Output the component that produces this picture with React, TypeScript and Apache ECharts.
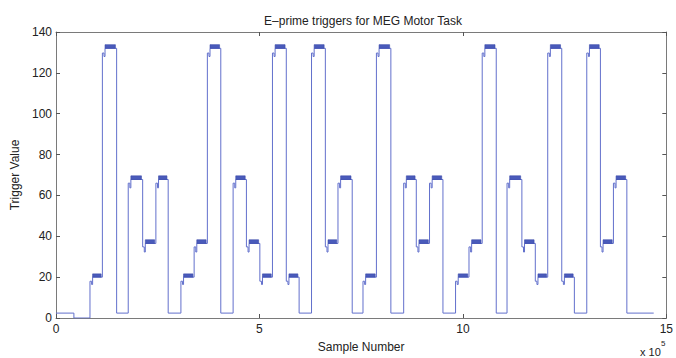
import React, { useEffect, useRef } from "react";
import * as echarts from "echarts";

// Transition times (sample number, in units of 1e5) and the trigger value held from each one
const starts = [0, 0.44, 0.835, 1.14, 1.49, 1.775, 2.13, 2.455, 2.757, 3.07, 3.395, 3.72, 4.05, 4.353, 4.68, 5.01, 5.32, 5.66, 5.975, 6.28, 6.62, 6.93, 7.28, 7.545, 7.875, 8.23, 8.545, 8.855, 9.18, 9.51, 9.82, 10.15, 10.475, 10.82, 11.085, 11.45, 11.78, 12.085, 12.43, 12.74, 13.045, 13.38, 13.7, 14.03];
const codes = [2, 0, 20, 133, 2, 69, 37, 69, 2, 20, 37, 133, 2, 69, 37, 20, 133, 20, 2, 133, 37, 69, 2, 20, 133, 2, 69, 37, 69, 2, 20, 37, 133, 2, 69, 37, 20, 133, 20, 2, 133, 37, 69, 2];
const endSample = 14.69;

// Levels for each trigger code
const levelCodes = [0, 2, 20, 37, 69, 133];
const levelValues = [0, 2.4, 20, 36.5, 67.8, 132];
const preValues = [0, 2.4, 18, 34.8, 66, 129.7];
const notchValues = [0, 2.4, 16.4, 32.3, 63.7, 128];
const blockTops = [0, 2.4, 21.6, 38.3, 69.6, 133.8];

const xTicks = [0, 5, 10, 15];
const yTicks = [0, 20, 40, 60, 80, 100, 120, 140];

const PRE_DUR = 0.04;
const NOTCH_DUR = 0.025;
const BLOCK_GAP = 0.03;

function buildLine() {
  const pts: number[][] = [];
  const blocks: number[][] = [];
  for (let i = 0; i < starts.length; i++) {
    const s = starts[i];
    const next = i + 1 < starts.length ? starts[i + 1] : endSample;
    const k = levelCodes.indexOf(codes[i]);
    if (codes[i] <= 2) {
      pts.push([s, levelValues[k]]);
    } else {
      pts.push([s, preValues[k]]);
      pts.push([s + PRE_DUR, notchValues[k]]);
      pts.push([s + PRE_DUR + NOTCH_DUR, levelValues[k]]);
      blocks.push([s + PRE_DUR + NOTCH_DUR, next - BLOCK_GAP, levelValues[k], blockTops[k]]);
    }
  }
  const lastK = levelCodes.indexOf(codes[codes.length - 1]);
  pts.push([endSample, levelValues[lastK]]);
  return { pts, blocks };
}

export default function App() {
  const ref = useRef<HTMLDivElement>(null);
  useEffect(() => {
    if (!ref.current) return;
    const chart = echarts.init(ref.current, null, { renderer: "svg" });
    const { pts, blocks } = buildLine();
    const font = "'Liberation Sans', Arial, sans-serif";
    const frame = () => ({ show: true, onZero: false, lineStyle: { color: "#7a7a7a", width: 1 } });
    const tick = () => ({ show: true, inside: true, length: 4, lineStyle: { color: "#555", width: 1 } });
    chart.setOption({
      animation: false,
      backgroundColor: "#ffffff",
      title: {
        text: "E\u2013prime triggers for MEG Motor Task",
        left: 358,
        top: 10,
        textAlign: "center",
        textStyle: { fontFamily: font, fontSize: 12, fontWeight: "normal", color: "#222" },
      },
      grid: { left: 56, right: 9, top: 32, bottom: 36 },
      xAxis: [
        {
          type: "value",
          position: "bottom",
          min: xTicks[0],
          max: xTicks[xTicks.length - 1],
          interval: 5,
          axisLine: frame(),
          axisTick: tick(),
          splitLine: { show: false },
          axisLabel: { fontFamily: font, fontSize: 12, color: "#222", margin: 5 },
          name: "Sample Number",
          nameLocation: "middle",
          nameGap: 23,
          nameTextStyle: { fontFamily: font, fontSize: 12, color: "#222" },
        },
        {
          type: "value",
          position: "top",
          min: xTicks[0],
          max: xTicks[xTicks.length - 1],
          interval: 5,
          axisLine: frame(),
          axisTick: tick(),
          axisLabel: { show: false },
          splitLine: { show: false },
        },
      ],
      yAxis: [
        {
          type: "value",
          position: "left",
          min: yTicks[0],
          max: yTicks[yTicks.length - 1],
          interval: 20,
          axisLine: frame(),
          axisTick: tick(),
          splitLine: { show: false },
          axisLabel: { fontFamily: font, fontSize: 12, color: "#222", margin: 4 },
          name: "Trigger Value",
          nameLocation: "middle",
          nameGap: 29,
          nameRotate: 90,
          nameTextStyle: { fontFamily: font, fontSize: 12, color: "#222" },
        },
        {
          type: "value",
          position: "right",
          min: yTicks[0],
          max: yTicks[yTicks.length - 1],
          interval: 20,
          axisLine: frame(),
          axisTick: tick(),
          axisLabel: { show: false },
          splitLine: { show: false },
        },
      ],
      graphic: [
        {
          type: "text",
          left: 640,
          top: 346,
          style: { text: "x 10", font: `11px ${font}`, fill: "#222" },
        },
        {
          type: "text",
          left: 661,
          top: 339,
          style: { text: "5", font: `8px ${font}`, fill: "#222" },
        },
      ],
      series: [
        {
          type: "line",
          step: "end",
          data: pts,
          showSymbol: false,
          symbol: "none",
          lineStyle: { color: "#6270cc", width: 1 },
          z: 2,
        },
        {
          type: "custom",
          data: blocks,
          encode: { x: [0, 1], y: [2, 3] },
          renderItem: (params: any, api: any) => {
            const p0 = api.coord([api.value(0), api.value(3)]);
            const p1 = api.coord([api.value(1), api.value(2)]);
            return {
              type: "rect",
              shape: { x: p0[0], y: p0[1], width: p1[0] - p0[0], height: p1[1] - p0[1] },
              style: { fill: "#4a5bbb", stroke: "#3a4aaa", lineWidth: 0.6 },
            };
          },
          z: 3,
        },
      ],
    });
    return () => chart.dispose();
  }, []);
  return <div ref={ref} style={{ width: 676, height: 358, position: "absolute", left: 0, top: 0 }} />;
}
